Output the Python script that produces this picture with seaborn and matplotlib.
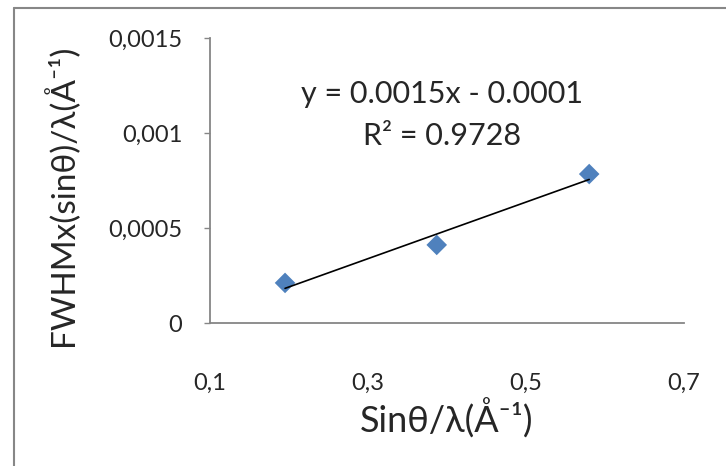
import numpy as np
import pandas as pd
import matplotlib
matplotlib.use("Agg")
import matplotlib.pyplot as plt
from matplotlib.lines import Line2D
from matplotlib.ticker import FixedLocator, FuncFormatter
import seaborn as sns

# dados
sin_theta_lambda = [0.195, 0.387, 0.580]
fwhm_sin = [0.000211, 0.000411, 0.000784]
x_ticks = [0.1, 0.3, 0.5, 0.7]
y_ticks = [0, 0.0005, 0.001, 0.0015]
eq_text = "y = 0.0015x - 0.0001"
r2_text = "R² = 0.9728"

data = pd.DataFrame({"x": sin_theta_lambda, "y": fwhm_sin})

sns.set_theme(style="white")
plt.rcParams["font.family"] = ["Lato", "DejaVu Sans"]

fig = plt.figure(figsize=(7.26, 4.66), dpi=100)
W, H = 726, 466
ax = fig.add_axes([210 / W, 1 - 323 / H, (684 - 210) / W, (323 - 38) / H])

sns.scatterplot(data=data, x="x", y="y", marker="D", s=110, color="#4F81BD",
                edgecolor="none", ax=ax, zorder=3)

# linha de tendência (regressão linear)
a, b = np.polyfit(data["x"], data["y"], 1)
xl = np.array([data["x"].min(), data["x"].max()])
sns.lineplot(x=xl, y=a * xl + b, color="black", linewidth=1.2, ax=ax, zorder=4)

ax.set_xlim(0.1, 0.7)
ax.set_ylim(0, 0.0015)
ax.xaxis.set_major_locator(FixedLocator(x_ticks))
ax.yaxis.set_major_locator(FixedLocator(y_ticks))
ax.xaxis.set_major_formatter(FuncFormatter(lambda v, p: ("%.1f" % v).replace(".", ",")))
ax.yaxis.set_major_formatter(FuncFormatter(lambda v, p: "0" if v == 0 else ("%.4f" % v).rstrip("0").replace(".", ",")))

for s in ["top", "right"]:
    ax.spines[s].set_visible(False)
for s in ["left", "bottom"]:
    ax.spines[s].set_color("#868686")
    ax.spines[s].set_linewidth(1.3)

ax.tick_params(axis="y", direction="out", length=4, width=1, color="#868686",
               pad=16, labelsize=17, left=True)
ax.tick_params(axis="x", length=0, pad=36, labelsize=17)

ax.set_xlabel("Sinθ/λ(Å⁻¹)", fontsize=26)
ax.set_ylabel("FWHMx(sinθ)/λ(Å⁻¹)", fontsize=24)
ax.xaxis.set_label_coords(0.5, -0.265)
ax.yaxis.set_label_coords(-0.275, 0.447)

ax.text(0.49, 0.805, eq_text, transform=ax.transAxes, ha="center", va="center", fontsize=22)
ax.text(0.49, 0.655, r2_text, transform=ax.transAxes, ha="center", va="center", fontsize=22)

# borda do gráfico (Excel)
fig.add_artist(Line2D([14 / W, 14 / W], [0, 1 - 8 / H], transform=fig.transFigure,
                      color="#878787", linewidth=1.5))
fig.add_artist(Line2D([14 / W, 1], [1 - 8 / H, 1 - 8 / H], transform=fig.transFigure,
                      color="#878787", linewidth=1.5))

fig.savefig("out.png", dpi=100)
